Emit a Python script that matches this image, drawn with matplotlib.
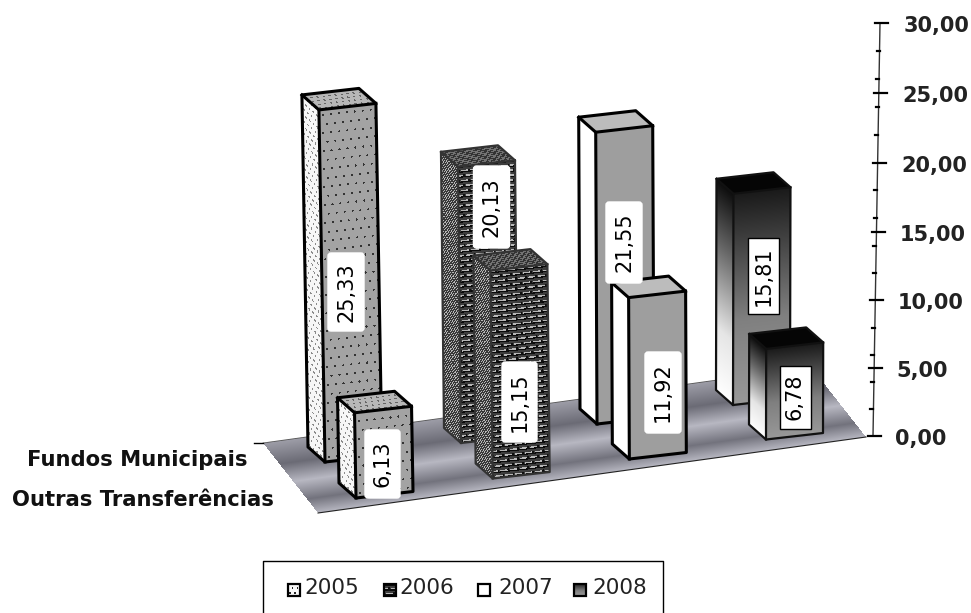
import numpy as np
import matplotlib
matplotlib.use('Agg')
import matplotlib.pyplot as plt
from matplotlib.patches import Polygon, Rectangle, FancyBboxPatch

# values
years = ['2005', '2006', '2007', '2008']
categories = ['Fundos Municipais', 'Outras Transferências']
fundos = [25.33, 20.13, 21.55, 15.81]
outras = [6.13, 15.15, 11.92, 6.78]
axis_major = [0, 5, 10, 15, 20, 25, 30]
axis_minor = [2, 4, 6, 8, 12, 14, 16, 18, 22, 24, 26, 28]

# the labels were moved by hand in the original: centre and box size in pixels
fundos_label_box = [(346, 292, 36, 78), (491.5, 207, 36, 82), (624, 242.5, 36, 81), (763.5, 276, 31, 76)]
outras_label_box = [(382.5, 464, 35, 68), (519.5, 402, 35, 80), (663, 392.5, 36, 81), (795, 397, 31, 63)]

fig = plt.figure(figsize=(9.71, 6.13), dpi=100)
ax = fig.add_axes([0, 0, 1, 1])
ax.set_xlim(0, 971)
ax.set_ylim(613, 0)
ax.axis('off')


def axis_y(v):
    return 436 - 13.45 * v - 0.0105 * v * v


def axis_x(v):
    return 873 + v * 7 / 30


# shaders: s, t are pixels along the face, a, b the same from 0 to 1
def gray(g):
    return lambda s, t, a, b: np.full(s.shape, g)


def dots(g, dot, sx=8.0, sy=9.0):
    def shade(s, t, a, b):
        row = np.floor(t / sy)
        ss = (s + row * sx / 2) % sx
        tt = t % sy
        out = np.full(s.shape, g)
        out[((ss - sx / 2) ** 2 + (tt - sy / 2) ** 2) < 1.2] = dot
        return out
    return shade


def bricks(s, t, a, b):
    w, h = 10.0, 5.0
    row = np.floor(t / h)
    ss = (s + (row % 2) * w / 2) % w
    tt = t % h
    out = np.full(s.shape, 0.24)
    out[(tt > 1.2) & (tt < 2.6) & (ss > 2.5)] = 0.72
    out[tt < 1.2] = 0.04
    out[(ss < 1.6) & (tt < 3.2)] = 0.06
    return out


def bricks_side(s, t, a, b):
    out = np.full(s.shape, 0.22)
    out[(np.floor(s * 0.8) + np.floor(t * 0.8)) % 3 == 0] = 0.72
    return out


def bricks_top(s, t, a, b):
    out = np.full(s.shape, 0.2)
    out[(np.floor(s / 3) + np.floor(t / 2)) % 2 == 0] = 0.45
    return out


def fade_front(s, t, a, b):
    return np.interp(b, [0, 0.4, 1], [0.6, 0.5, 0.1])


def fade_side(s, t, a, b):
    return np.interp(b, [0, 0.3, 0.7, 1], [1.0, 0.9, 0.4, 0.05])


def black_top(s, t, a, b):
    return np.full(s.shape, 0.02)


def floor_shade(s, t, a, b):
    return np.interp(b, [0, 0.2, 0.45, 0.7, 1], [0.72, 0.45, 0.72, 0.42, 0.62])


def face(p0, u, v, shader, z, tint=0.0):
    p0, u, v = map(np.asarray, (p0, u, v))
    corners = np.array([p0, p0 + u, p0 + u + v, p0 + v])
    x0, y0 = np.floor(corners.min(axis=0)).astype(int)
    x1, y1 = np.ceil(corners.max(axis=0)).astype(int)
    xx, yy = np.meshgrid(np.arange(x0, x1) + 0.5, np.arange(y0, y1) + 0.5)
    inv = np.linalg.inv(np.column_stack([u, v]))
    a = inv[0, 0] * (xx - p0[0]) + inv[0, 1] * (yy - p0[1])
    b = inv[1, 0] * (xx - p0[0]) + inv[1, 1] * (yy - p0[1])
    tone = shader(a * np.hypot(*u), b * np.hypot(*v), a, b)
    inside = ((a >= 0) & (a <= 1) & (b >= 0) & (b <= 1)) * 1.0
    rgba = np.dstack([tone, tone, np.clip(tone + tint, 0, 1), inside])
    ax.imshow(rgba, extent=(x0, x1, y1, y0), interpolation='nearest', zorder=z, aspect='auto')


# look of each year: side, front, top, outline width, outline colour
styles = [
    (dots(0.97, 0.55, 5, 6), dots(0.64, 0.2), dots(0.72, 0.4, 6, 5), 2.2, 'black'),
    (bricks_side, bricks, bricks_top, 1.6, '#333333'),
    (gray(1.0), gray(0.62), gray(0.74), 2.2, 'black'),
    (fade_side, fade_front, black_top, 1.6, '#111111'),
]

WIDTH = np.array([57.0, -6.5])
DEPTH = np.array([-17.0, -15.0])


def draw_bar(i, row, value, z):
    base = np.array([325 + 136 * i + row * (31 + 2 * i / 3), 462 - 19 * i + row * (36 - i / 2)])
    up = np.array([value * (-0.24 + 0.09 * i), -value * (13.9 - 0.18 * i)])
    side, front, top, lw, col = styles[i]
    face(base + DEPTH, -DEPTH, up, side, z)
    face(base, WIDTH, up, front, z)
    face(base + up, WIDTH, DEPTH, top, z)
    shape = [base, base + WIDTH, base + WIDTH + up, base + WIDTH + up + DEPTH,
             base + up + DEPTH, base + DEPTH]
    ax.add_patch(Polygon(shape, closed=True, fill=False, ec=col, lw=lw, zorder=z + 0.1, joinstyle='round'))
    ax.plot(*zip(base, base + up, base + up + WIDTH), color=col, lw=lw, zorder=z + 0.1)
    ax.plot(*zip(base + up, base + up + DEPTH), color=col, lw=lw, zorder=z + 0.1)


# floor
face((318, 513), (548, -76), (-55, -70), floor_shade, 1, tint=0.04)
ax.plot([318, 866], [513, 437], color='#222222', lw=0.8, zorder=1.1)
ax.plot([263, 811], [443, 367], color='#555555', lw=0.6, zorder=1.1)
ax.plot([254, 263], [443, 443], color='black', lw=1.0, zorder=1.1)

for i in range(len(years)):
    draw_bar(i, 0, fundos[i], 2 + i * 2)
    draw_bar(i, 1, outras[i], 3 + i * 2)

# value labels sit over the bars
for i, (v, box) in enumerate(zip(fundos + outras, fundos_label_box + outras_label_box)):
    cx, cy, w, h = box
    boxed = i % 4 == 3
    ax.add_patch(FancyBboxPatch((cx - w / 2, cy - h / 2), w, h,
                                boxstyle='square,pad=0' if boxed else 'round,pad=0,rounding_size=3',
                                fc='white', ec='black' if boxed else 'white', lw=1.0, zorder=30))
    ax.text(cx, cy, f'{v:.2f}'.replace('.', ','), rotation=90, ha='center', va='center',
            fontsize=15, zorder=31, color='black')

# value axis
ax.plot([axis_x(0), axis_x(30)], [axis_y(0), axis_y(30)], color='#333333', lw=1.0, zorder=1)
for v in axis_major:
    ax.plot([axis_x(v) - 5, axis_x(v) + 8], [axis_y(v), axis_y(v)], color='black', lw=1.6)
    ax.text(895 + v * 0.3, axis_y(v) + 3, f'{v:.2f}'.replace('.', ','), fontsize=15, fontweight='bold',
            ha='left', va='center', color='#222222')
for v in axis_minor:
    ax.plot([axis_x(v) - 3, axis_x(v)], [axis_y(v), axis_y(v)], color='black', lw=1.6)

# category labels
ax.text(137.5, 460, categories[0], fontsize=15.2, fontweight='bold', ha='center', va='center', color='#111111')
ax.text(142.5, 500, categories[1], fontsize=15.2, fontweight='bold', ha='center', va='center', color='#111111')

# legend, the original is cut at the bottom of the picture
ax.plot([263, 263, 663, 663], [613, 561, 561, 613], color='black', lw=1.0, zorder=5)
key_faces = [dots(0.97, 0.15, 5, 5), bricks, gray(1.0), fade_front]
for name, kx, tx, shade in zip(years, [293.5, 389.5, 484, 580], [304, 399, 498, 592], key_faces):
    face((kx - 6, 595.5), (12, 0), (0, -12), shade, 6)
    ax.add_patch(Rectangle((kx - 6, 583.5), 12, 12, fill=False, ec='black', lw=1.6, zorder=7))
    ax.text(tx, 588, name, fontsize=15.5, ha='left', va='center', color='#222222')

ax.set_xlim(0, 971)
ax.set_ylim(613, 0)
fig.savefig('out.png', dpi=100)
